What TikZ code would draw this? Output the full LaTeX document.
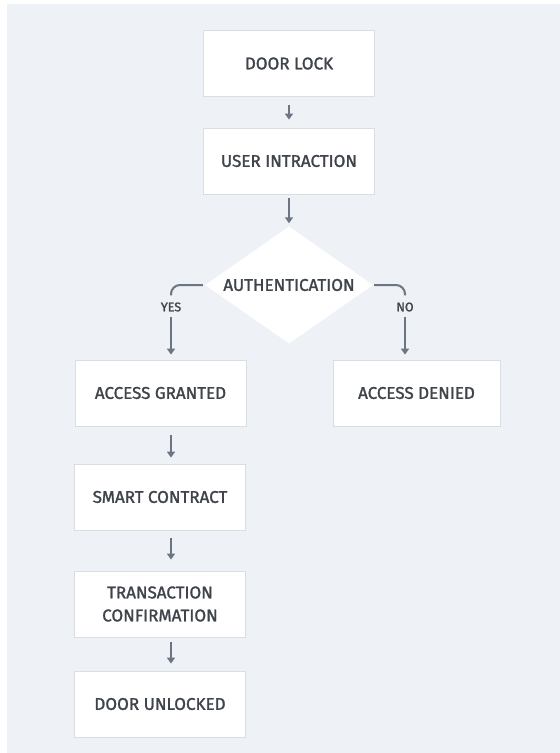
\documentclass[tikz,border=0pt]{standalone}
\usepackage{fontspec}
\setmainfont{Fira Sans}
\newfontfamily\boxfont{Fira Sans}[FakeBold=1.5]
\usetikzlibrary{arrows.meta,shapes.geometric}
\definecolor{pagebg}{HTML}{EEF2F6}
\definecolor{boxline}{HTML}{D9DEE3}
\definecolor{inktext}{HTML}{3F444A}
\definecolor{arrowink}{HTML}{6C7583}
\tikzset{
  flowbox/.style={draw=boxline, line width=0.8pt, fill=white,
    minimum width=171pt, minimum height=66pt, inner sep=0pt,
    align=center, text=inktext, font=\boxfont\fontsize{17}{23}\selectfont},
  decision/.style={shape=diamond, aspect=1.44, fill=white, draw=none,
    minimum width=168pt, minimum height=117pt, inner sep=0pt,
    text=inktext, font=\boxfont\fontsize{17}{17}\selectfont},
  branchlabel/.style={text=inktext, inner sep=0pt,
    font=\boxfont\fontsize{12.5}{13}\selectfont},
  flowarrow/.style={draw=arrowink, line width=2pt,
    -{Triangle[width=8pt,length=6pt]}},
  branchline/.style={draw=arrowink, line width=2pt, rounded corners=9pt}
}
\begin{document}
\begin{tikzpicture}[x=1pt,y=-1pt]
  % page and backdrop
  \useasboundingbox (0,0) rectangle (560,753);
  \fill[white] (0,0) rectangle (560,753);
  \fill[pagebg] (7,4) rectangle (560,753);

  % column guides for the arrows
  \coordinate (lcol) at (171,0);
  \coordinate (rcol) at (405,0);

  % main column
  \node[flowbox] (lock) at (289,63.5) {DOOR LOCK};
  \node[flowbox] (user) at (289,161) {USER INTRACTION};
  \node[decision] (auth) at (289,285) {AUTHENTICATION};

  % branches
  \node[flowbox] (granted) at (160.5,393) {ACCESS GRANTED};
  \node[flowbox, minimum width=167pt] (denied) at (416.5,393) {ACCESS DENIED};
  \node[flowbox] (contract) at (160,497) {SMART CONTRACT};
  \node[flowbox] (confirm) at (160,604) {TRANSACTION\\CONFIRMATION};
  \node[flowbox] (unlocked) at (160,704) {DOOR UNLOCKED};

  \node[branchlabel] (yes) at (171,307) {YES};
  \node[branchlabel] (no) at (405,307) {NO};

  % connectors
  \draw[flowarrow, shorten <=8pt, shorten >=8pt] (lock) -- (user);
  \draw[flowarrow, shorten <=4pt, shorten >=3pt] (user) -- (auth);

  \draw[branchline] ([xshift=-2pt]auth.west) -- (yes.north |- auth.west) -- ([yshift=7pt]yes.north);
  \draw[branchline] ([xshift=1pt]auth.east) -- (no.north |- auth.east) -- ([yshift=7pt]no.north);

  \draw[flowarrow, shorten <=5pt, shorten >=5pt] (yes.south) -- (yes.south |- granted.north);
  \draw[flowarrow, shorten <=5pt, shorten >=5pt] (no.south) -- (no.south |- denied.north);

  \draw[flowarrow, shorten <=9pt, shorten >=6pt] (granted.south -| lcol) -- (contract.north -| lcol);
  \draw[flowarrow, shorten <=8pt, shorten >=11pt] (contract.south -| lcol) -- (confirm.north -| lcol);
  \draw[flowarrow, shorten <=5pt, shorten >=7pt] (confirm.south -| lcol) -- (unlocked.north -| lcol);
\end{tikzpicture}
\end{document}
